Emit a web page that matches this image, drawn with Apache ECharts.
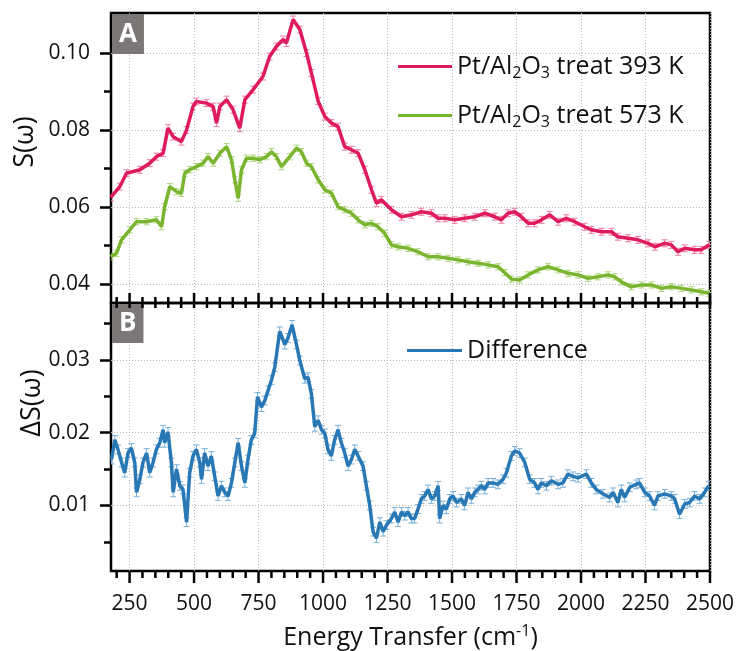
<!DOCTYPE html>
<html>
<head>
<meta charset="utf-8">
<script src="https://cdn.jsdelivr.net/npm/echarts@6/dist/echarts.min.js"></script>
<style>
html, body { margin: 0; padding: 0; background: #fff; }
#chart { width: 737px; height: 651px; }
</style>
</head>
<body>
<div id="chart"></div>
<script>
// tick positions
const xMajorTicks = [250, 500, 750, 1000, 1250, 1500, 1750, 2000, 2250, 2500];
const xMinorTicks = [200, 300, 350, 400, 450, 550, 600, 650, 700, 800, 850, 900, 950, 1050, 1100, 1150, 1200,
    1300, 1350, 1400, 1450, 1550, 1600, 1650, 1700, 1800, 1850, 1900, 1950, 2050, 2100, 2150, 2200, 2300, 2350, 2400, 2450];
const topYTicks = [0.04, 0.06, 0.08, 0.10];
const topYMinor = [0.05, 0.07, 0.09];
const bottomYTicks = [0.01, 0.02, 0.03];
const bottomYMinor = [0.005, 0.015, 0.025, 0.035];

// series names
const name393 = 'Pt/Al{sub|2}O{sub|3} treat 393 K';
const name573 = 'Pt/Al{sub|2}O{sub|3} treat 573 K';
const nameDiff = 'Difference';

// error bar half-heights
const err393 = 0.0009;
const err573 = 0.0008;
const errDiff = 0.0006;

// [energy transfer (cm-1), S(w)]
const treat393 = [
    [177, 0.0625], [212, 0.0653], [238, 0.0688], [290, 0.0697], [328, 0.0714], [354, 0.0731], [380, 0.0740],
    [399, 0.0805], [419, 0.0783], [451, 0.0770], [471, 0.0800], [496, 0.0861], [509, 0.0874], [548, 0.0870],
    [574, 0.0861], [587, 0.0818], [600, 0.0861], [626, 0.0879], [651, 0.0853], [677, 0.0805], [697, 0.0879],
    [729, 0.0905], [767, 0.0939], [793, 0.0991], [819, 0.1017], [845, 0.1035], [858, 0.1026], [884, 0.1087],
    [910, 0.1061], [936, 0.1000], [955, 0.0948], [981, 0.0875], [1007, 0.0835], [1033, 0.0818], [1058, 0.0809],
    [1084, 0.0757], [1110, 0.0749], [1136, 0.0740], [1162, 0.0697], [1188, 0.0645], [1207, 0.0610], [1226, 0.0619],
    [1265, 0.0593], [1304, 0.0575], [1343, 0.0580], [1381, 0.0588], [1420, 0.0584], [1446, 0.0571], [1472, 0.0571],
    [1510, 0.0567], [1549, 0.0571], [1588, 0.0575], [1627, 0.0584], [1666, 0.0575], [1691, 0.0567], [1717, 0.0584],
    [1743, 0.0588], [1769, 0.0575], [1795, 0.0558], [1820, 0.0558], [1847, 0.0567], [1879, 0.0580], [1911, 0.0562],
    [1943, 0.0571], [1976, 0.0562], [2014, 0.0549], [2040, 0.0541], [2079, 0.0536], [2118, 0.0536], [2143, 0.0523],
    [2182, 0.0519], [2221, 0.0515], [2260, 0.0506], [2286, 0.0497], [2324, 0.0506], [2350, 0.0502], [2376, 0.0484],
    [2402, 0.0493], [2440, 0.0489], [2466, 0.0489], [2498, 0.0502]
];

const treat573 = [
    [177, 0.0471], [199, 0.0480], [219, 0.0515], [251, 0.0541], [277, 0.0562], [316, 0.0562], [354, 0.0567],
    [374, 0.0549], [386, 0.0601], [406, 0.0653], [432, 0.0640], [451, 0.0636], [464, 0.0688], [483, 0.0697],
    [509, 0.0705], [535, 0.0714], [554, 0.0731], [574, 0.0714], [600, 0.0740], [626, 0.0757], [645, 0.0723],
    [658, 0.0671], [671, 0.0623], [684, 0.0697], [703, 0.0727], [729, 0.0727], [755, 0.0723], [781, 0.0731],
    [800, 0.0744], [819, 0.0731], [839, 0.0705], [871, 0.0731], [897, 0.0753], [916, 0.0744], [936, 0.0714],
    [955, 0.0705], [981, 0.0671], [1007, 0.0645], [1033, 0.0636], [1058, 0.0601], [1084, 0.0593], [1110, 0.0584],
    [1136, 0.0567], [1162, 0.0554], [1188, 0.0558], [1213, 0.0549], [1239, 0.0532], [1265, 0.0502], [1291, 0.0497],
    [1330, 0.0493], [1368, 0.0484], [1407, 0.0471], [1446, 0.0471], [1485, 0.0467], [1523, 0.0463], [1562, 0.0458],
    [1601, 0.0454], [1640, 0.0450], [1679, 0.0445], [1704, 0.0430], [1730, 0.0413], [1762, 0.0411], [1795, 0.0424],
    [1833, 0.0437], [1872, 0.0445], [1911, 0.0437], [1950, 0.0428], [1988, 0.0424], [2027, 0.0415], [2066, 0.0419],
    [2105, 0.0424], [2131, 0.0419], [2156, 0.0406], [2195, 0.0393], [2234, 0.0398], [2273, 0.0398], [2311, 0.0389],
    [2350, 0.0393], [2389, 0.0389], [2428, 0.0385], [2466, 0.0380], [2498, 0.0376]
];

const difference = [
    [180, 0.0163], [193, 0.0190], [205, 0.0177], [219, 0.0159], [231, 0.0145], [244, 0.0172], [257, 0.0179],
    [270, 0.0159], [277, 0.0118], [290, 0.0136], [302, 0.0159], [316, 0.0172], [328, 0.0145], [341, 0.0159],
    [354, 0.0177], [367, 0.0186], [380, 0.0204], [386, 0.0186], [399, 0.0201], [412, 0.0159], [419, 0.0118],
    [432, 0.0150], [445, 0.0127], [457, 0.0122], [471, 0.0077], [483, 0.0145], [496, 0.0168], [509, 0.0177],
    [522, 0.0159], [529, 0.0136], [541, 0.0172], [554, 0.0154], [567, 0.0168], [580, 0.0140], [593, 0.0113],
    [606, 0.0127], [619, 0.0118], [632, 0.0113], [645, 0.0131], [658, 0.0159], [671, 0.0186], [684, 0.0154],
    [697, 0.0131], [709, 0.0163], [722, 0.0190], [735, 0.0199], [746, 0.0249], [761, 0.0235], [774, 0.0244],
    [787, 0.0258], [800, 0.0272], [813, 0.0290], [832, 0.0339], [852, 0.0321], [864, 0.0330], [880, 0.0348],
    [897, 0.0321], [910, 0.0299], [929, 0.0274], [942, 0.0276], [955, 0.0253], [968, 0.0208], [981, 0.0217],
    [994, 0.0204], [1007, 0.0199], [1019, 0.0177], [1032, 0.0168], [1045, 0.0190], [1058, 0.0204], [1071, 0.0186],
    [1084, 0.0172], [1097, 0.0154], [1110, 0.0163], [1123, 0.0177], [1136, 0.0168], [1155, 0.0154], [1168, 0.0127],
    [1181, 0.0100], [1194, 0.0064], [1207, 0.0055], [1220, 0.0077], [1233, 0.0064], [1246, 0.0073], [1265, 0.0082],
    [1278, 0.0091], [1291, 0.0077], [1304, 0.0091], [1317, 0.0086], [1330, 0.0091], [1342, 0.0082], [1355, 0.0082],
    [1368, 0.0095], [1381, 0.0109], [1394, 0.0113], [1407, 0.0122], [1420, 0.0109], [1433, 0.0113], [1446, 0.0127],
    [1452, 0.0082], [1465, 0.0100], [1478, 0.0095], [1491, 0.0109], [1504, 0.0113], [1517, 0.0104], [1536, 0.0109],
    [1549, 0.0100], [1562, 0.0118], [1575, 0.0109], [1588, 0.0118], [1601, 0.0122], [1614, 0.0127], [1627, 0.0122],
    [1640, 0.0131], [1659, 0.0131], [1678, 0.0129], [1698, 0.0136], [1711, 0.0145], [1730, 0.0168], [1743, 0.0175],
    [1762, 0.0172], [1782, 0.0159], [1801, 0.0136], [1820, 0.0131], [1833, 0.0122], [1846, 0.0131], [1866, 0.0127],
    [1885, 0.0134], [1911, 0.0129], [1930, 0.0131], [1949, 0.0143], [1969, 0.0140], [1988, 0.0138], [2021, 0.0143],
    [2040, 0.0131], [2059, 0.0122], [2085, 0.0116], [2111, 0.0111], [2124, 0.0118], [2143, 0.0104], [2156, 0.0122],
    [2169, 0.0111], [2189, 0.0125], [2214, 0.0129], [2227, 0.0131], [2247, 0.0118], [2266, 0.0113], [2285, 0.0100],
    [2298, 0.0113], [2324, 0.0116], [2350, 0.0113], [2363, 0.0109], [2382, 0.0088], [2402, 0.0102], [2421, 0.0104],
    [2440, 0.0113], [2460, 0.0109], [2479, 0.0118], [2495, 0.0127]
];

const FONT = 'Open Sans';
const X_MIN = 178, X_MAX = 2500;
const TOP_MIN = 0.0351, TOP_MAX = 0.1104;
const BOT_MIN = 0.001, BOT_MAX = 0.0378;

const richSub = {
    sub: { fontSize: 16, fontFamily: FONT, padding: [13, 0, 0, 0] },
    sup: { fontSize: 16, fontFamily: FONT, padding: [0, 0, 13, 0] }
};

function errorBars(err, color) {
    return function (params, api) {
        const x = api.value(0), y = api.value(1);
        const hi = api.coord([x, y + err]);
        const lo = api.coord([x, y - err]);
        const style = { stroke: color, lineWidth: 1 };
        return {
            type: 'group',
            children: [
                { type: 'line', shape: { x1: hi[0], y1: hi[1], x2: lo[0], y2: lo[1] }, style: style },
                { type: 'line', shape: { x1: hi[0] - 3, y1: hi[1], x2: hi[0] + 3, y2: hi[1] }, style: style },
                { type: 'line', shape: { x1: lo[0] - 3, y1: lo[1], x2: lo[0] + 3, y2: lo[1] }, style: style }
            ]
        };
    };
}

// x tick marks drawn at an axis edge; dir -1 = up, +1 = down
function xTicks(gridIdx, values, yEdge, dir, len) {
    return {
        type: 'custom', xAxisIndex: gridIdx, yAxisIndex: gridIdx, clip: false, silent: true, z: 20,
        data: values.map(v => [v, yEdge]),
        renderItem: function (params, api) {
            const p = api.coord([api.value(0), api.value(1)]);
            return { type: 'line', shape: { x1: p[0], y1: p[1], x2: p[0], y2: p[1] + dir * len },
                     style: { stroke: '#000', lineWidth: 2.5 } };
        }
    };
}

function yTickAxis(gridIndex, min, max, values) {
    return {
        type: 'value', gridIndex: gridIndex, position: 'left', min: min, max: max,
        axisLine: { show: false, onZero: false },
        axisTick: { show: true, inside: false, length: 7, customValues: values, lineStyle: { color: '#000', width: 2.5 } },
        axisLabel: { show: false }, splitLine: { show: false }
    };
}

const dotted = { show: true, lineStyle: { color: '#b8b8b8', type: [1, 2], width: 1 } };
const tickLabel = { fontSize: 21, fontFamily: FONT, color: '#111' };

const option = {
    animation: false,
    backgroundColor: '#fff',
    title: [
        { text: 'A', left: 112, top: 14, padding: [6, 7, 5, 7], backgroundColor: '#7b7777',
          textStyle: { color: '#fff', fontSize: 26, fontWeight: 'bold', fontFamily: FONT, lineHeight: 29 } },
        { text: 'B', left: 112, top: 304, padding: [5, 7, 5, 7], backgroundColor: '#7b7777',
          textStyle: { color: '#fff', fontSize: 26, fontWeight: 'bold', fontFamily: FONT, lineHeight: 29 } }
    ],
    graphic: [
        { type: 'text', x: 25, y: 142, rotation: Math.PI / 2, z: 10,
          style: { text: 'S(ω)', fontSize: 27, fontFamily: FONT, fill: '#111', align: 'center', verticalAlign: 'middle' } },
        { type: 'text', x: 32, y: 403, rotation: Math.PI / 2, z: 10,
          style: { text: 'ΔS(ω)', fontSize: 27, fontFamily: FONT, fill: '#111', align: 'center', verticalAlign: 'middle' } }
    ],
    grid: [
        { left: 111, right: 27, top: 13, height: 290, show: true, borderColor: '#000', borderWidth: 2.5 },
        { left: 111, right: 27, top: 303, height: 270, show: true, borderColor: '#000', borderWidth: 2.5 }
    ],
    legend: [
        { data: [name393], left: 398, top: 54, orient: 'vertical', padding: 0, icon: 'rect',
          itemWidth: 54, itemHeight: 3,
          textStyle: { fontSize: 25, fontFamily: FONT, color: '#111', rich: richSub } },
        { data: [name573], left: 398, top: 103, orient: 'vertical', padding: 0, icon: 'rect',
          itemWidth: 54, itemHeight: 3,
          textStyle: { fontSize: 25, fontFamily: FONT, color: '#111', rich: richSub } },
        { data: [nameDiff], left: 407, top: 338, orient: 'vertical', padding: 0, icon: 'rect',
          itemWidth: 55, itemHeight: 3,
          textStyle: { fontSize: 25, fontFamily: FONT, color: '#111' } }
    ],
    xAxis: [
        {
            type: 'value', gridIndex: 0, position: 'bottom', min: X_MIN, max: X_MAX,
            axisLine: { show: false, onZero: false },
            axisTick: { show: false, customValues: xMajorTicks },
            axisLabel: { show: false, customValues: xMajorTicks },
            splitLine: dotted
        },
        {
            type: 'value', gridIndex: 1, position: 'bottom', min: X_MIN, max: X_MAX,
            axisLine: { show: false, onZero: false },
            axisTick: { show: false, customValues: xMajorTicks },
            axisLabel: Object.assign({ show: true, customValues: xMajorTicks, margin: 23,
                                       formatter: v => String(v) }, tickLabel),
            splitLine: dotted,
            name: 'Energy Transfer (cm{sup|-1})', nameLocation: 'middle', nameGap: 52,
            nameTextStyle: { fontSize: 25, fontFamily: FONT, color: '#111', rich: richSub }
        }
    ],
    yAxis: [
        {
            type: 'value', gridIndex: 0, position: 'left', min: TOP_MIN, max: TOP_MAX,
            axisLine: { show: false, onZero: false },
            axisTick: { show: true, inside: false, length: 11, customValues: topYTicks, lineStyle: { color: '#000', width: 2.5 } },
            axisLabel: Object.assign({ customValues: topYTicks, margin: 21, formatter: v => v.toFixed(2) }, tickLabel),
            splitLine: dotted
        },
        {
            type: 'value', gridIndex: 1, position: 'left', min: BOT_MIN, max: BOT_MAX,
            axisLine: { show: false, onZero: false },
            axisTick: { show: true, inside: false, length: 11, customValues: bottomYTicks, lineStyle: { color: '#000', width: 2.5 } },
            axisLabel: Object.assign({ customValues: bottomYTicks, margin: 21, formatter: v => v.toFixed(2) }, tickLabel),
            splitLine: dotted
        },
        yTickAxis(0, TOP_MIN, TOP_MAX, topYMinor),
        yTickAxis(1, BOT_MIN, BOT_MAX, bottomYMinor)
    ],
    series: [
        { name: 'err393', type: 'custom', xAxisIndex: 0, yAxisIndex: 0, data: treat393, clip: true, z: 2,
          renderItem: errorBars(err393, '#ee7aa0') },
        { name: 'err573', type: 'custom', xAxisIndex: 0, yAxisIndex: 0, data: treat573, clip: true, z: 2,
          renderItem: errorBars(err573, '#add579') },
        { name: 'errDiff', type: 'custom', xAxisIndex: 1, yAxisIndex: 1, data: difference, clip: true, z: 2,
          renderItem: errorBars(errDiff, '#79b0d8') },
        { name: name393, type: 'line', xAxisIndex: 0, yAxisIndex: 0, data: treat393, showSymbol: false, z: 3,
          lineStyle: { color: '#df1a5e', width: 3.5 }, itemStyle: { color: '#df1a5e' } },
        { name: name573, type: 'line', xAxisIndex: 0, yAxisIndex: 0, data: treat573, showSymbol: false, z: 3,
          lineStyle: { color: '#7ab530', width: 3.5 }, itemStyle: { color: '#7ab530' } },
        { name: nameDiff, type: 'line', xAxisIndex: 1, yAxisIndex: 1, data: difference, showSymbol: false, z: 3,
          lineStyle: { color: '#2878b5', width: 3.5 }, itemStyle: { color: '#2878b5' } },
        // x tick marks
        xTicks(0, xMajorTicks, TOP_MIN, -1, 10),
        xTicks(0, xMinorTicks, TOP_MIN, -1, 6),
        xTicks(1, xMajorTicks.concat(xMinorTicks), BOT_MAX, 1, 5),
        xTicks(1, xMajorTicks, BOT_MIN, 1, 12),
        xTicks(1, xMinorTicks, BOT_MIN, 1, 7)
    ]
};

const chart = echarts.init(document.getElementById('chart'));
chart.setOption(option);
</script>
</body>
</html>
